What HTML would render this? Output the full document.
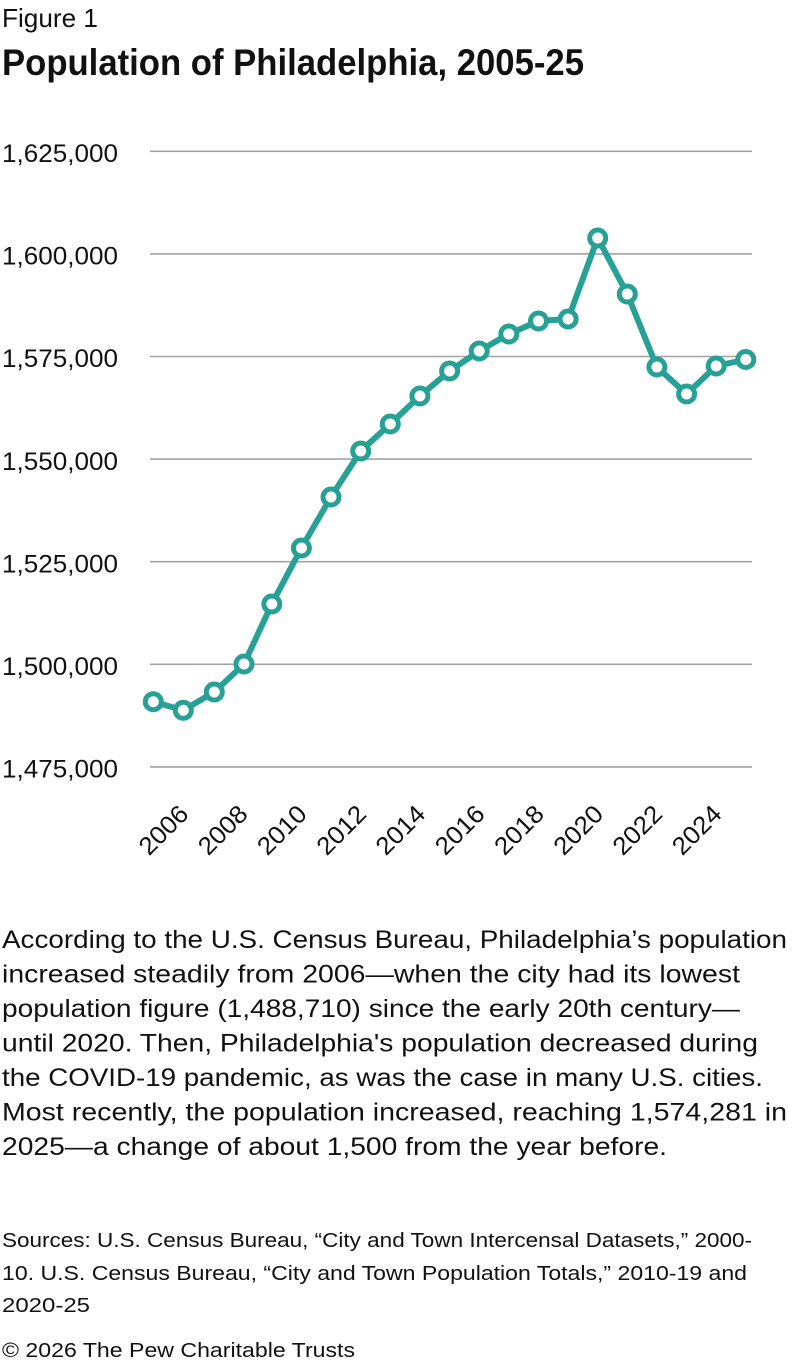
<!DOCTYPE html>
<html>
<head>
<meta charset="utf-8">
<style>
html,body{margin:0;padding:0;background:#fff;}
svg{display:block;}
text{font-family:"Liberation Sans",sans-serif;fill:#111;}
</style>
</head>
<body>
<svg width="792" height="1366" viewBox="0 0 792 1366" xmlns="http://www.w3.org/2000/svg">
  <rect width="792" height="1366" fill="#fff"/>
  <text x="2" y="27" font-size="26" textLength="96" lengthAdjust="spacingAndGlyphs">Figure 1</text>
  <text x="2" y="75" font-size="37" font-weight="bold" textLength="582" lengthAdjust="spacingAndGlyphs">Population of Philadelphia, 2005-25</text>

  <g stroke="#a3a3a3" stroke-width="1.6">
    <line x1="150" y1="151.3" x2="752" y2="151.3"/>
    <line x1="150" y1="253.9" x2="752" y2="253.9"/>
    <line x1="150" y1="356.5" x2="752" y2="356.5"/>
    <line x1="150" y1="459.1" x2="752" y2="459.1"/>
    <line x1="150" y1="561.7" x2="752" y2="561.7"/>
    <line x1="150" y1="664.3" x2="752" y2="664.3"/>
    <line x1="150" y1="766.9" x2="752" y2="766.9"/>
  </g>

  <g font-size="25">
    <text x="2" y="162" textLength="116" lengthAdjust="spacingAndGlyphs">1,625,000</text>
    <text x="2" y="264.6" textLength="116" lengthAdjust="spacingAndGlyphs">1,600,000</text>
    <text x="2" y="367.2" textLength="116" lengthAdjust="spacingAndGlyphs">1,575,000</text>
    <text x="2" y="469.8" textLength="116" lengthAdjust="spacingAndGlyphs">1,550,000</text>
    <text x="2" y="572.4" textLength="116" lengthAdjust="spacingAndGlyphs">1,525,000</text>
    <text x="2" y="675" textLength="116" lengthAdjust="spacingAndGlyphs">1,500,000</text>
    <text x="2" y="777.6" textLength="116" lengthAdjust="spacingAndGlyphs">1,475,000</text>
  </g>

  <g font-size="25" text-anchor="end">
    <text transform="translate(190,815.5) rotate(-45)" textLength="58" lengthAdjust="spacingAndGlyphs">2006</text>
    <text transform="translate(249.2,815.5) rotate(-45)" textLength="58" lengthAdjust="spacingAndGlyphs">2008</text>
    <text transform="translate(308.4,815.5) rotate(-45)" textLength="58" lengthAdjust="spacingAndGlyphs">2010</text>
    <text transform="translate(367.7,815.5) rotate(-45)" textLength="58" lengthAdjust="spacingAndGlyphs">2012</text>
    <text transform="translate(426.9,815.5) rotate(-45)" textLength="58" lengthAdjust="spacingAndGlyphs">2014</text>
    <text transform="translate(486.2,815.5) rotate(-45)" textLength="58" lengthAdjust="spacingAndGlyphs">2016</text>
    <text transform="translate(545.5,815.5) rotate(-45)" textLength="58" lengthAdjust="spacingAndGlyphs">2018</text>
    <text transform="translate(604.7,815.5) rotate(-45)" textLength="58" lengthAdjust="spacingAndGlyphs">2020</text>
    <text transform="translate(663.9,815.5) rotate(-45)" textLength="58" lengthAdjust="spacingAndGlyphs">2022</text>
    <text transform="translate(723.2,815.5) rotate(-45)" textLength="58" lengthAdjust="spacingAndGlyphs">2024</text>
  </g>

  <polyline fill="none" stroke="#27a096" stroke-width="6" stroke-linejoin="round" stroke-linecap="round"
    points="153.3,701.7 183.3,710.3 214.3,692 244,664 271.8,604 301.4,548 331,497 360.7,451 390.3,424 419.9,396 449.6,371 479.2,351 508.8,334 538.5,321 568.1,319 597.7,238 627.3,294 656.9,367 686.6,394 716.2,366 745.8,359.5"/>
  <g fill="#fff" stroke="#27a096" stroke-width="5">
    <circle cx="153.3" cy="701.7" r="8"/>
    <circle cx="183.3" cy="710.3" r="8"/>
    <circle cx="214.3" cy="692" r="8"/>
    <circle cx="244" cy="664" r="8"/>
    <circle cx="271.8" cy="604" r="8"/>
    <circle cx="301.4" cy="548" r="8"/>
    <circle cx="331" cy="497" r="8"/>
    <circle cx="360.7" cy="451" r="8"/>
    <circle cx="390.3" cy="424" r="8"/>
    <circle cx="419.9" cy="396" r="8"/>
    <circle cx="449.6" cy="371" r="8"/>
    <circle cx="479.2" cy="351" r="8"/>
    <circle cx="508.8" cy="334" r="8"/>
    <circle cx="538.5" cy="321" r="8"/>
    <circle cx="568.1" cy="319" r="8"/>
    <circle cx="597.7" cy="238" r="8"/>
    <circle cx="627.3" cy="294" r="8"/>
    <circle cx="656.9" cy="367" r="8"/>
    <circle cx="686.6" cy="394" r="8"/>
    <circle cx="716.2" cy="366" r="8"/>
    <circle cx="745.8" cy="359.5" r="8"/>
  </g>

  <g font-size="25">
    <text x="2" y="948" textLength="785" lengthAdjust="spacingAndGlyphs">According to the U.S. Census Bureau, Philadelphia’s population</text>
    <text x="2" y="982.5" textLength="738" lengthAdjust="spacingAndGlyphs">increased steadily from 2006—when the city had its lowest</text>
    <text x="2" y="1017" textLength="738" lengthAdjust="spacingAndGlyphs">population figure (1,488,710) since the early 20th century—</text>
    <text x="2" y="1051.5" textLength="756" lengthAdjust="spacingAndGlyphs">until 2020. Then, Philadelphia's population decreased during</text>
    <text x="2" y="1086" textLength="761" lengthAdjust="spacingAndGlyphs">the COVID-19 pandemic, as was the case in many U.S. cities.</text>
    <text x="2" y="1120.5" textLength="785" lengthAdjust="spacingAndGlyphs">Most recently, the population increased, reaching 1,574,281 in</text>
    <text x="2" y="1155" textLength="665" lengthAdjust="spacingAndGlyphs">2025—a change of about 1,500 from the year before.</text>
  </g>

  <g font-size="20">
    <text x="2" y="1247" textLength="750" lengthAdjust="spacingAndGlyphs">Sources: U.S. Census Bureau, “City and Town Intercensal Datasets,” 2000-</text>
    <text x="2" y="1280" textLength="745" lengthAdjust="spacingAndGlyphs">10. U.S. Census Bureau, “City and Town Population Totals,” 2010-19 and</text>
    <text x="2" y="1312" textLength="88" lengthAdjust="spacingAndGlyphs">2020-25</text>
    <text x="2" y="1357" textLength="353" lengthAdjust="spacingAndGlyphs">© 2026 The Pew Charitable Trusts</text>
  </g>
</svg>
</body>
</html>
